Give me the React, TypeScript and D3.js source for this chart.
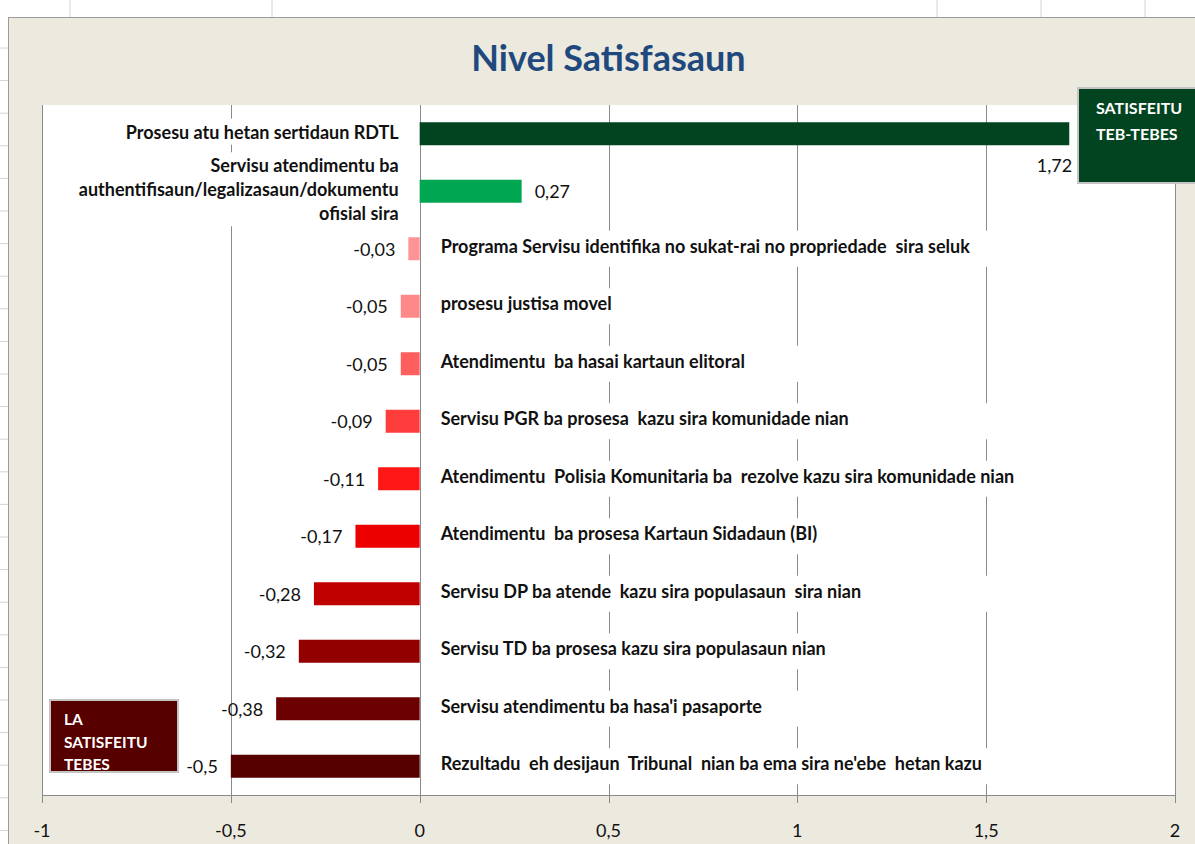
import React, { useEffect, useRef } from 'react';
import * as d3 from 'd3';

const title = 'Nivel Satisfasaun';

const categories = [
  'Prosesu atu hetan sertidaun RDTL',
  'Servisu atendimentu ba\nauthentifisaun/legalizasaun/dokumentu\nofisial sira',
  'Programa Servisu identifika no sukat-rai no propriedade  sira seluk',
  'prosesu justisa movel',
  'Atendimentu  ba hasai kartaun elitoral',
  'Servisu PGR ba prosesa  kazu sira komunidade nian',
  'Atendimentu  Polisia Komunitaria ba  rezolve kazu sira komunidade nian',
  'Atendimentu  ba prosesa Kartaun Sidadaun (BI)',
  'Servisu DP ba atende  kazu sira populasaun  sira nian',
  'Servisu TD ba prosesa kazu sira populasaun nian',
  "Servisu atendimentu ba hasa'i pasaporte",
  "Rezultadu  eh desijaun  Tribunal  nian ba ema sira ne'ebe  hetan kazu",
];

const values = [1.72, 0.27, -0.03, -0.05, -0.05, -0.09, -0.11, -0.17, -0.28, -0.32, -0.38, -0.5];

const barColors = [
  '#024420', '#00A651', '#FF9494', '#FF8888', '#FF5E5E', '#FF3D3D',
  '#FF1616', '#EC0000', '#C00000', '#920000', '#6C0000', '#560000',
];

const xTicks = [-1, -0.5, 0, 0.5, 1, 1.5, 2];

const topNote = ['SATISFEITU', 'TEB-TEBES'];
const bottomNote = ['LA', 'SATISFEITU', 'TEBES'];

const fmt = (v: number) => String(v).replace('.', ',');

const App = () => {
  const svgRef = useRef<SVGSVGElement>(null);

  useEffect(() => {
    document.body.style.margin = '0';
    const width = 1195;
    const height = 844;
    const plot = { left: 42, right: 1175, top: 105, bottom: 795 };
    const font = 'Lato, "Open Sans", sans-serif';

    const svg = d3.select(svgRef.current!);
    svg.selectAll('*').remove();
    svg.attr('width', width).attr('height', height).style('font-family', font);

    // spreadsheet behind the chart
    svg.append('rect').attr('width', width).attr('height', height).attr('fill', '#ffffff');
    svg.selectAll('line.colmark')
      .data([70, 272, 937, 1041, 1145])
      .enter().append('line')
      .attr('x1', d => d).attr('x2', d => d).attr('y1', 0).attr('y2', 17)
      .attr('stroke', '#d4d4d4');
    svg.selectAll('line.rowmark')
      .data(d3.range(48, height, 32.6))
      .enter().append('line')
      .attr('x1', 0).attr('x2', 8).attr('y1', d => d).attr('y2', d => d)
      .attr('stroke', '#d4d4d4');

    // chart area
    svg.append('rect')
      .attr('x', 8.5).attr('y', 17.5).attr('width', width).attr('height', height)
      .attr('fill', '#ECE9DF').attr('stroke', '#9c9c9c');

    svg.append('text')
      .attr('x', (plot.left + plot.right) / 2).attr('y', 57)
      .attr('text-anchor', 'middle').attr('dominant-baseline', 'central')
      .attr('font-size', 36).attr('font-weight', 700).attr('fill', '#1F497D')
      .text(title);

    const x = d3.scaleLinear().domain([-1, 2]).range([plot.left, plot.right]);
    const y = d3.scaleBand<string>().domain(categories)
      .range([plot.top, plot.bottom]).paddingInner(0.6).paddingOuter(0.3);

    svg.append('rect')
      .attr('x', plot.left).attr('y', plot.top)
      .attr('width', plot.right - plot.left).attr('height', plot.bottom - plot.top)
      .attr('fill', '#ffffff');

    // gridlines
    svg.selectAll('line.grid')
      .data(xTicks)
      .enter().append('line')
      .attr('x1', d => Math.round(x(d)) + 0.5).attr('x2', d => Math.round(x(d)) + 0.5)
      .attr('y1', plot.top).attr('y2', plot.bottom + 8)
      .attr('stroke', '#8a8a8a');

    // category labels with white boxes
    const labels = svg.append('g');
    categories.forEach((c, i) => {
      const v = values[i];
      const cy = y(c)! + y.bandwidth() / 2;
      const lines = c.split('\n');
      const g = labels.append('g');
      const box = g.append('rect').attr('fill', '#ffffff');
      const t = g.append('text')
        .attr('font-size', 18).attr('font-weight', 700).attr('fill', '#111')
        .style('white-space', 'pre');
      const lh = 24;
      const ty = v > 0 ? cy - 2 : cy - 3;
      lines.forEach((ln, k) => {
        t.append('tspan')
          .attr('x', v > 0 ? x(0) - 21 : x(0) + 21)
          .attr('y', ty + (k - (lines.length - 1) / 2) * lh)
          .attr('dominant-baseline', 'central')
          .text(ln);
      });
      t.attr('text-anchor', v > 0 ? 'end' : 'start');
      const bb = (t.node() as SVGTextElement).getBBox();
      if (v > 0) {
        box.attr('x', bb.x - 8).attr('width', bb.width + 14)
          .attr('y', bb.y - 2).attr('height', bb.height + 4);
      } else {
        box.attr('x', bb.x - 6).attr('width', bb.width + 166)
          .attr('y', cy - 18).attr('height', 36);
      }
    });

    // zero line
    svg.append('line')
      .attr('x1', Math.round(x(0)) + 0.5).attr('x2', Math.round(x(0)) + 0.5)
      .attr('y1', plot.top).attr('y2', plot.bottom)
      .attr('stroke', '#8a8a8a');

    // bars
    svg.selectAll('rect.bar')
      .data(values)
      .enter().append('rect')
      .attr('x', d => x(Math.min(0, d)))
      .attr('y', (d, i) => y(categories[i])!)
      .attr('width', d => Math.abs(x(d) - x(0)))
      .attr('height', y.bandwidth())
      .attr('fill', (d, i) => barColors[i]);

    // value labels
    svg.selectAll('text.val')
      .data(values)
      .enter().append('text')
      .attr('font-size', 18).attr('fill', '#111')
      .attr('dominant-baseline', 'central')
      .attr('text-anchor', (d, i) => (d < 0 || i === 0 ? 'end' : 'start'))
      .attr('x', (d, i) => (i === 0 ? x(d) + 3 : d < 0 ? x(d) - 13 : x(d) + 13))
      .attr('y', (d, i) => y(categories[i])! + y.bandwidth() / 2 + (i === 0 ? 31 : 0))
      .text(d => fmt(d));

    // x axis
    svg.append('line')
      .attr('x1', plot.left).attr('x2', plot.right)
      .attr('y1', plot.bottom + 0.5).attr('y2', plot.bottom + 0.5)
      .attr('stroke', '#8a8a8a');
    svg.selectAll('text.tick')
      .data(xTicks)
      .enter().append('text')
      .attr('x', d => x(d)).attr('y', 830)
      .attr('text-anchor', 'middle').attr('dominant-baseline', 'central')
      .attr('font-size', 18).attr('fill', '#111')
      .text(d => fmt(d));

    // annotation boxes
    const note = (bx: number, by: number, bw: number, bh: number, fill: string,
      lines: string[], tx: number, ty: number, lh: number, fs: number) => {
      svg.append('rect')
        .attr('x', bx).attr('y', by).attr('width', bw).attr('height', bh)
        .attr('fill', fill).attr('stroke', '#c4c4c4').attr('stroke-width', 2);
      const t = svg.append('text')
        .attr('font-size', fs).attr('font-weight', 700).attr('fill', '#ffffff');
      lines.forEach((ln, k) => {
        t.append('tspan').attr('x', tx).attr('y', ty + k * lh)
          .attr('dominant-baseline', 'central').text(ln);
      });
    };
    note(1078, 88, 130, 95, barColors[0], topNote, 1096, 107, 26, 16);
    note(50, 700, 128, 72, barColors[11], bottomNote, 64, 719, 22.5, 15.5);
  }, []);

  return <svg ref={svgRef}></svg>;
};

export default App;
